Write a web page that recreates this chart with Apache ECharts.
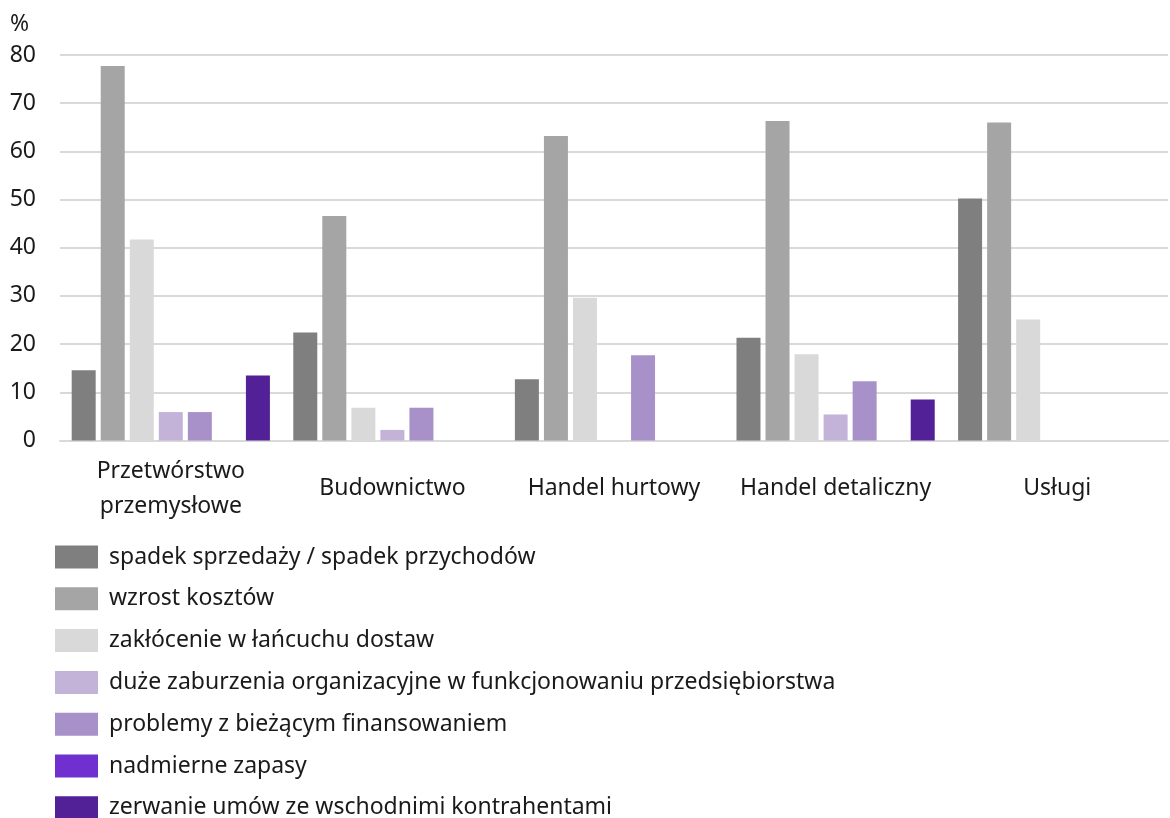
<!DOCTYPE html>
<html><head><meta charset="utf-8">
<script src="https://cdn.jsdelivr.net/npm/echarts@6/dist/echarts.min.js"></script>
<style>html,body{margin:0;padding:0;background:#fff}#c{width:1170px;height:818px}</style>
</head><body><div id="c"></div>
<script>
const categories = ['Przetwórstwo\nprzemysłowe', 'Budownictwo', 'Handel hurtowy', 'Handel detaliczny', 'Usługi'];
const seriesNames = [
  'spadek sprzedaży / spadek przychodów',
  'wzrost kosztów',
  'zakłócenie w łańcuchu dostaw',
  'duże zaburzenia organizacyjne w funkcjonowaniu przedsiębiorstwa',
  'problemy z bieżącym finansowaniem',
  'nadmierne zapasy',
  'zerwanie umów ze wschodnimi kontrahentami'
];
const spadekSprzedazy = [14.6, 22.4, 12.7, 21.3, 50.2];
const wzrostKosztow = [77.7, 46.6, 63.2, 66.3, 66.0];
const zaklocenieDostaw = [41.7, 6.8, 29.6, 17.9, 25.1];
const zaburzeniaOrganizacyjne = [5.9, 2.2, 0, 5.4, 0];
const problemyFinansowanie = [5.9, 6.8, 17.7, 12.3, 0];
const nadmierneZapasy = [0, 0, 0, 0, 0];
const zerwanieUmow = [13.5, 0, 0, 8.5, 0];
const yTicks = [0, 10, 20, 30, 40, 50, 60, 70, 80];
const colors = ['#7f7f7f', '#a5a5a5', '#d9d9d9', '#c3b3d9', '#a891c8', '#7030d0', '#532197'];
const allData = [spadekSprzedazy, wzrostKosztow, zaklocenieDostaw, zaburzeniaOrganizacyjne, problemyFinansowanie, nadmierneZapasy, zerwanieUmow];

const FONT = 'Noto Sans';
const FS = 23;
const chart = echarts.init(document.getElementById('c'));
chart.setOption({
  animation: false,
  color: colors,
  textStyle: { fontFamily: FONT, color: '#1a1a1a' },
  grid: { left: 60, right: 2, top: 55, bottom: 377.5 },
  legend: {
    orient: 'vertical', left: 50, top: 540.5, height: 300,
    itemWidth: 43, itemHeight: 23, itemGap: 18.8,
    icon: 'rect',
    textStyle: { fontFamily: FONT, fontSize: FS, color: '#1a1a1a', padding: [0, 0, 0, 6] },
    data: seriesNames
  },
  xAxis: {
    type: 'category', data: categories,
    axisLine: { show: true, lineStyle: { color: '#d9d9d9', width: 2 } },
    axisTick: { show: false },
    axisLabel: { fontFamily: FONT, fontSize: FS, color: '#1a1a1a', margin: 48, verticalAlign: 'middle', lineHeight: 35, interval: 0 }
  },
  yAxis: {
    type: 'value', min: yTicks[0], max: yTicks[yTicks.length - 1], interval: 10,
    name: '%', nameLocation: 'end', nameGap: 19,
    nameTextStyle: { fontFamily: FONT, fontSize: FS, color: '#1a1a1a', align: 'left', padding: [0, 0, 0, -50] },
    axisLine: { show: false }, axisTick: { show: false },
    axisLabel: { fontFamily: FONT, fontSize: FS, color: '#1a1a1a', margin: 24 },
    splitLine: { lineStyle: { color: '#d9d9d9', width: 2 } }
  },
  series: seriesNames.map((n, i) => ({
    name: n, type: 'bar', data: allData[i],
    barWidth: 24, barGap: '21%', barCategoryGap: '11%'
  }))
});
</script></body></html>
